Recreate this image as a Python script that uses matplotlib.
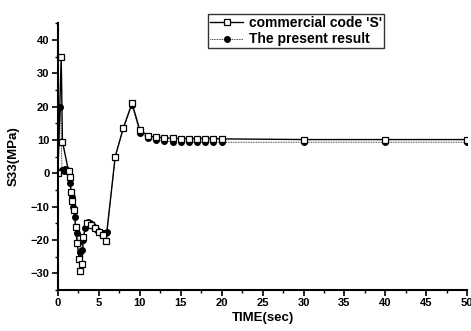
import matplotlib as mpl
mpl.use('Agg')
import matplotlib.pyplot as plt
from matplotlib.ticker import MultipleLocator

# commercial code 'S' (open squares)
t_s = [0, 0.4, 0.55, 1.3, 1.45, 1.6, 1.75, 1.95, 2.15, 2.35, 2.6, 2.75, 2.95, 3.1,
       3.5, 4.0, 4.5, 5.0, 5.5, 5.85, 7.0, 8.0, 9.05, 10, 11, 12, 13, 14, 15, 16,
       17, 18, 19, 20, 30, 40, 50]
s_s = [0, 35, 9.5, 0.6, -1.1, -5.5, -8.4, -11, -16, -21, -25.7, -29.4, -27.2, -19.1,
       -15, -15.5, -16.5, -17.5, -18.5, -20.3, 5, 13.7, 21, 13, 11.2, 10.8, 10.6, 10.5, 10.4, 10.4,
       10.4, 10.4, 10.4, 10.3, 10.1, 10.1, 10.1]

# the present result (filled circles)
t_p = [0, 0.3, 0.5, 0.7, 0.9, 1.1, 1.3, 1.5, 1.7, 1.9, 2.1, 2.3, 2.5, 2.7, 2.9, 3.1,
       3.3, 3.5, 3.7, 3.9, 4.1, 4.3, 4.5, 4.7, 4.9, 5.1, 5.3, 5.5, 5.7, 5.9, 6.0,
       7.0, 8.0, 9.05, 10, 11, 12, 13, 14, 15, 16, 17, 18, 19, 20, 30, 40, 50]
s_p = [0, 20, 1.0, 0.8, 1.2, 1.0, 0.3, -3, -7, -10, -13, -18, -21, -23.5, -23, -20,
       -16.5, -15, -14.5, -14.8, -15.3, -15.8, -16.3, -16.8, -17.2, -17.5, -17.8, -18, -18, -17.8, -17.5,
       5, 13.5, 20.5, 12, 10.6, 10.0, 9.6, 9.4, 9.3, 9.3,
       9.3, 9.3, 9.3, 9.3, 9.3, 9.3, 9.3]

plt.rcParams['font.family'] = ['Liberation Sans', 'DejaVu Sans']
plt.rcParams['font.weight'] = 'bold'

fig = plt.figure(figsize=(4.71, 3.31), dpi=100)
ax = fig.add_axes([0.123, 0.124, 0.869, 0.806])

ax.plot(t_p, s_p, color='black', lw=0.6, ls=(0, (1, 1)), marker='o', ms=4,
        mfc='black', mec='black', label='The present result')
ax.plot(t_s, s_s, color='black', lw=1.0, marker='s', ms=4.5,
        mfc='white', mec='black', mew=0.9, label="commercial code 'S'")

ax.set_xlim(0, 50)
ax.set_ylim(-35, 45)
ax.xaxis.set_major_locator(MultipleLocator(5))
ax.xaxis.set_minor_locator(MultipleLocator(2.5))
ax.yaxis.set_major_locator(MultipleLocator(10))
ax.yaxis.set_minor_locator(MultipleLocator(5))
ax.set_yticks(range(-30, 41, 10))
ax.spines['top'].set_visible(False)
ax.spines['right'].set_visible(False)
ax.spines['left'].set_linewidth(1.5)
ax.spines['bottom'].set_linewidth(1.5)
ax.tick_params(which='major', length=4, width=1.2, labelsize=8, pad=2)
ax.tick_params(which='minor', length=2.5, width=1.0)

ax.set_xlabel('TIME(sec)', fontsize=9.5, fontweight='bold', labelpad=3)
ax.set_ylabel('S33(MPa)', fontsize=9.5, fontweight='bold', labelpad=8)

h, l = ax.get_legend_handles_labels()
leg = ax.legend(h[::-1], l[::-1], loc='upper left', bbox_to_anchor=(0.427, 0.978),
                bbox_transform=fig.transFigure,
                fontsize=10, frameon=True, fancybox=False, edgecolor='black',
                handlelength=2.4, handletextpad=0.4, borderpad=0.15, labelspacing=0.15)
leg.get_frame().set_linewidth(1.0)

plt.savefig('out.png')
